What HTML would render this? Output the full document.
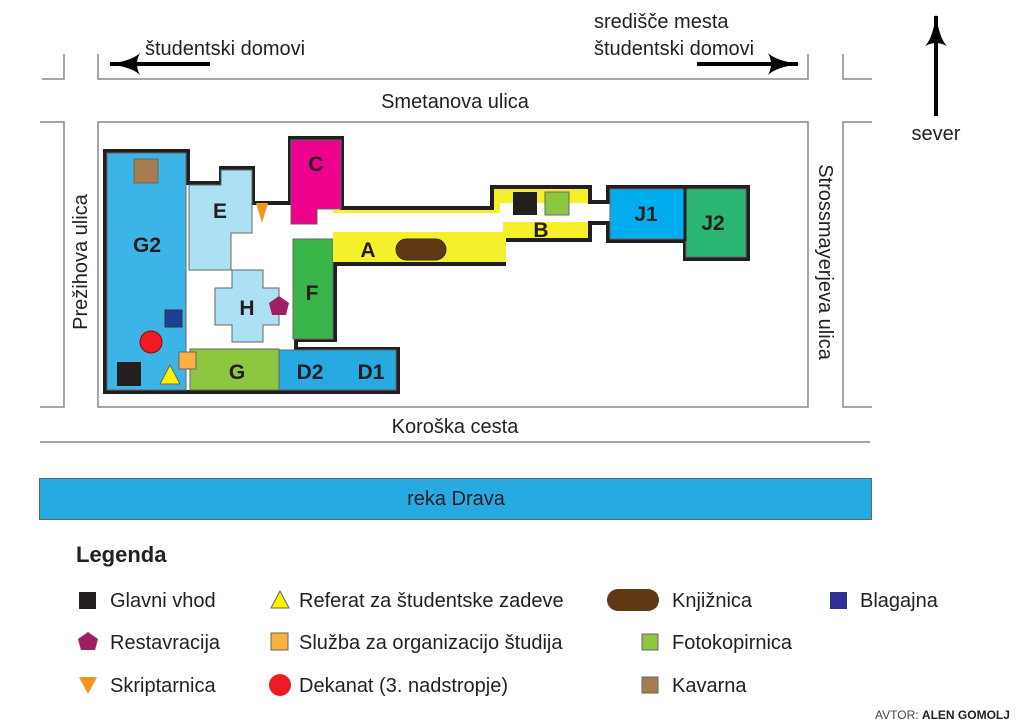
<!DOCTYPE html>
<html><head><meta charset="utf-8"><style>
body{margin:0;background:#fff}
svg{display:block}
text{font-family:"Liberation Sans",sans-serif;fill:#231f20}
.b{font-weight:bold;font-size:21px}
.t{font-size:20px}
</style></head><body>
<svg width="1024" height="724" viewBox="0 0 1024 724" xmlns="http://www.w3.org/2000/svg">
<defs>
<marker id="ah" viewBox="0 0 32 22" refX="30" refY="11" markerWidth="32" markerHeight="22" markerUnits="userSpaceOnUse" orient="auto">
<path d="M0,0 Q8,8 32,11 Q8,14 0,22 Q6,11 0,0 Z" fill="#000"/></marker>
</defs>
<g fill="none" stroke="#888" stroke-width="1.5">
<polyline points="42,79 64,79 64,54"/>
<polyline points="98,54 98,79 808,79 808,54"/>
<polyline points="843,54 843,79 872,79"/>
<polyline points="40,122 64,122 64,407 40,407"/>
<rect x="98" y="122" width="710" height="285"/>
<polyline points="872,122 843,122 843,407 872,407"/>
<line x1="40" y1="442" x2="870" y2="442"/>
</g>
<rect x="39.5" y="478.5" width="832" height="41" fill="#27aae1" stroke="#666" stroke-width="1"/>
<g stroke="#000" stroke-width="4" fill="none">
<line x1="210" y1="64" x2="110" y2="64" marker-end="url(#ah)"/>
<line x1="697" y1="64" x2="798" y2="64" marker-end="url(#ah)"/>
<line x1="936" y1="116" x2="936" y2="16" marker-end="url(#ah)"/>
</g>
<text class="t" x="145" y="55">študentski domovi</text>
<text class="t" x="594" y="28">središče mesta</text>
<text class="t" x="594" y="55">študentski domovi</text>
<text class="t" x="936" y="140" text-anchor="middle">sever</text>
<text class="t" x="455" y="108" text-anchor="middle">Smetanova ulica</text>
<text class="t" x="455" y="433" text-anchor="middle">Koroška cesta</text>
<text class="t" x="456" y="505" text-anchor="middle">reka Drava</text>
<text class="t" transform="translate(87,262) rotate(-90)" text-anchor="middle">Prežihova ulica</text>
<text class="t" transform="translate(819,262) rotate(90)" text-anchor="middle">Strossmayerjeva ulica</text>
<polygon points="105,151 188,151 188,183 221,183 221,168 253,168 253,203 290,203 290,138 342,138 342,208 492,208 492,187 590,187 590,202 608,202 608,187 748,187 748,259 685,259 685,241 608,241 608,223 590,223 590,240 504,240 504,264 335,264 335,340 296,340 296,349 398,349 398,392 105,392" fill="#fff" stroke="#231f20" stroke-width="4"/>
<g stroke="#666" stroke-width="1">
<rect x="107" y="153" width="79" height="237" fill="#3db4e8"/>
<polygon points="189,185 221,185 221,170 252,170 252,233 231,233 231,270 189,270" fill="#abe0f5"/>
<polygon points="232,270 263,270 263,288 279,288 279,325 263,325 263,342 232,342 232,325 215,325 215,288 232,288" fill="#abe0f5"/>
<polygon points="291,140 341,140 341,209 317,209 317,224 291,224" fill="#ec008c"/>
<rect x="293" y="239" width="40" height="100" fill="#3ab54a"/>
<rect x="190" y="349" width="89" height="41" fill="#8dc63f"/>
<rect x="279" y="350" width="117" height="40" fill="#27aae1"/>
<rect x="610" y="189" width="75" height="50" fill="#00aeef"/>
<rect x="686" y="189" width="60" height="68" fill="#2bb673"/>
</g>
<polygon points="333,210 494,210 494,189 588,189 588,203 500,203 500,213 333,213" fill="#f6ef2c"/>
<polygon points="333,232 503,232 503,222 588,222 588,238 506,238 506,262 333,262" fill="#f6ef2c"/>
<line x1="685" y1="187" x2="685" y2="241" stroke="#231f20" stroke-width="3"/>
<rect x="513" y="192" width="24" height="23" fill="#231f20"/>
<rect x="545" y="192" width="24" height="23" fill="#8dc63f" stroke="#666"/>
<rect x="396" y="239" width="50" height="21" rx="10.5" fill="#603813" stroke="#333"/>
<rect x="134" y="159" width="24" height="24" fill="#a97c50" stroke="#666"/>
<rect x="165" y="310" width="17" height="17" fill="#1e3f96" stroke="#333"/>
<circle cx="151" cy="342" r="11" fill="#ed1c24" stroke="#900"/>
<rect x="117" y="362" width="24" height="24" fill="#231f20"/>
<polygon points="170,365 180,384 160,384" fill="#fff200" stroke="#666"/>
<rect x="179" y="352" width="17" height="17" fill="#fbb040" stroke="#666"/>
<polygon points="256,203 268,203 262,223" fill="#f7941d"/>
<polygon points="279,296 289,303 286,315 272,315 269,303" fill="#9e1f63"/>
<g text-anchor="middle">
<text class="b" x="147" y="252">G2</text>
<text class="b" x="220" y="218">E</text>
<text class="b" x="316" y="171">C</text>
<text class="b" x="368" y="257">A</text>
<text class="b" x="541" y="237">B</text>
<text class="b" x="646" y="221">J1</text>
<text class="b" x="713" y="230">J2</text>
<text class="b" x="247" y="315">H</text>
<text class="b" x="312" y="300">F</text>
<text class="b" x="237" y="379">G</text>
<text class="b" x="310" y="379">D2</text>
<text class="b" x="371" y="379">D1</text>
</g>
<text x="76" y="562" style="font-weight:bold;font-size:22px">Legenda</text>
<rect x="79" y="592" width="17" height="17" fill="#231f20"/>
<text class="t" x="110" y="607">Glavni vhod</text>
<polygon points="88,632 98,639 95,650 81,650 78,639" fill="#9e1f63"/>
<text class="t" x="110" y="649">Restavracija</text>
<polygon points="79,677 97,677 88,694" fill="#f7941d"/>
<text class="t" x="110" y="692">Skriptarnica</text>
<polygon points="280,591 289,608 271,608" fill="#fff200" stroke="#666"/>
<text class="t" x="299" y="607">Referat za študentske zadeve</text>
<rect x="271" y="633" width="17" height="17" fill="#fbb040" stroke="#666"/>
<text class="t" x="299" y="649">Služba za organizacijo študija</text>
<circle cx="280" cy="685" r="11" fill="#ed1c24"/>
<text class="t" x="299" y="692">Dekanat (3. nadstropje)</text>
<rect x="607" y="589" width="52" height="22" rx="11" fill="#603813"/>
<text class="t" x="672" y="607">Knjižnica</text>
<rect x="830" y="592" width="17" height="17" fill="#2e3192"/>
<text class="t" x="860" y="607">Blagajna</text>
<rect x="642" y="634" width="16" height="16" fill="#8dc63f" stroke="#666"/>
<text class="t" x="672" y="649">Fotokopirnica</text>
<rect x="642" y="677" width="16" height="16" fill="#a97c50" stroke="#666"/>
<text class="t" x="672" y="692">Kavarna</text>
<text x="875" y="719" style="font-size:12px;fill:#444">AVTOR: <tspan style="font-weight:bold;fill:#231f20">ALEN GOMOLJ</tspan></text>
</svg>
</body></html>
